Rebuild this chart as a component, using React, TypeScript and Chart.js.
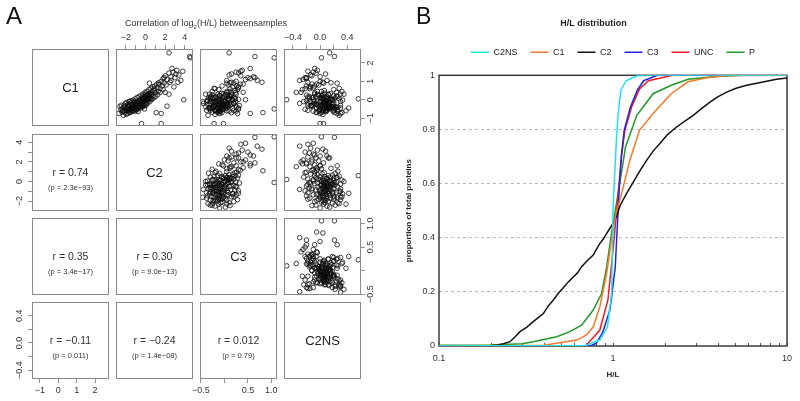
import React, { useEffect, useRef } from 'react';
import { Chart, registerables } from 'chart.js';

Chart.register(...registerables);
const FONT = "'Liberation Sans', Arial, Helvetica, sans-serif";
Chart.defaults.font.family = FONT;
Chart.defaults.color = '#333';

// ---------------- Panel A : log2(H/L) per protein in each sample ----------------
const sampleNames = ['C1', 'C2', 'C3', 'C2NS'];

const c1Values = [
  -0.55, -0.62, -0.40, -0.70, -0.45, -0.58, -0.35, -0.62, -0.48, -0.30,
  -0.55, -0.42, -0.20, -0.50, -0.33, -0.60, -0.25, -0.40, -0.15, -0.48,
  -0.30, -0.20, -0.52, -0.35, -0.10, -0.28, -0.45, -0.18, -0.05, -0.32,
  -0.12, -0.22, 0.02, -0.30, -0.08, -0.15, 0.10, -0.25, 0.00, -0.10,
  0.15, -0.05, 0.20, 0.05, -0.18, 0.25, 0.08, 0.30, -0.02, 0.18,
  0.35, 0.10, 0.28, 0.45, 0.22, 0.50, 0.38, -0.75, -0.50, -0.80,
  -0.40, -0.62, -0.45, -0.62, -0.28, -0.55, -0.40, -0.05, -0.45, 0.05,
  -0.38, 0.08, -0.30, 0.12, 0.05, 0.32, -0.30, -0.70, -0.10, -0.65,
  0.65, 0.45, 0.85, 0.60, 1.00, 0.75, 1.15, 0.90, 1.30, 0.80,
  1.10, 1.45, 0.95, 1.25, 1.50, 1.20, 1.60, 1.35, 1.05, 2.28,
  2.55, 2.35, -1.30, -1.30, -0.70, -0.75, 0.00, 0.00, 0.05, -0.20,
  0.30, -0.45, 0.60, -0.10, 0.40, -0.60, 0.15, 0.90, -0.35, -0.50,
  -0.30, -0.85, -0.20, -0.75, -0.10, -0.70, -0.05, -0.62, -0.02, -0.58,
  0.05, -0.52, 0.12, -0.45, 0.18, -0.40, 0.25, -0.38, 0.30, -0.32,
  0.40, -0.25, 0.45, -0.18, 0.55, -0.10, 0.62, 0.02, 0.70, 0.10,
  0.75, 0.18, 0.85, 0.28, 0.92, -0.45, -0.52, -0.38, -0.42, -0.25,
  -0.22, -0.18, -0.08, 0.02, 0.12, 0.20, 0.30, -0.62, -0.68, -0.36,
  -0.48, -0.30, -0.35, -0.12, -0.02, 0.08, 0.22, -0.28, -0.58, -0.15,
  0.40, 1.05, 0.70, 1.40, 0.55, 1.70, 0.95, 1.20, 0.30, 1.55,
];
const c2Values = [
  -2.5, -2.3, -2.2, -2.1, -2.0, -1.9, -1.8, -1.8, -1.7, -1.6,
  -1.6, -1.5, -1.5, -1.4, -1.4, -1.3, -1.3, -1.2, -1.2, -1.1,
  -1.1, -1.0, -1.0, -0.9, -0.9, -0.8, -0.8, -0.7, -0.7, -0.6,
  -0.6, -0.5, -0.5, -0.4, -0.4, -0.3, -0.3, -0.2, -0.2, -0.1,
  -0.1, 0.0, 0.0, 0.1, 0.1, 0.2, 0.2, 0.3, 0.3, 0.4,
  0.5, 0.5, 0.6, 0.7, 0.8, 0.9, 1.0, -2.7, -2.4, -1.95,
  -1.75, -1.45, -1.25, -1.05, -0.95, -0.85, -0.65, -0.55, -0.45, -0.35,
  -0.25, -0.15, 0.05, 0.15, 0.35, 0.45, -2.15, -1.65, -1.15, -0.75,
  1.2, 1.3, 1.4, 1.5, 1.6, 1.7, 1.8, 1.9, 2.0, 2.1,
  2.2, 2.4, 2.5, 2.6, 2.8, 3.0, 3.2, 3.4, 3.6, 4.55,
  2.4, 4.5, -0.4, 1.6, 1.1, 1.6, 3.9, 0.2, 0.6, -0.8,
  0.0, -1.2, 0.9, -1.6, 1.5, -2.3, -0.3, 0.4, 2.2, -0.1,
  -2.45, -2.25, -2.05, -1.85, -1.70, -1.55, -1.45, -1.35, -1.25, -1.15,
  -1.05, -0.95, -0.85, -0.75, -0.65, -0.55, -0.45, -0.35, -0.25, -0.15,
  -0.05, 0.05, 0.15, 0.25, 0.35, 0.45, 0.55, 0.65, 0.75, 0.85,
  0.95, 1.05, 1.15, 1.25, 1.35, -1.90, -1.60, -1.35, -1.10, -0.85,
  -0.60, -0.40, -0.20, 0.00, 0.20, 0.40, 0.60, -2.15, -2.40, -2.60,
  -1.25, -1.00, -0.70, -0.50, -0.30, -0.10, 0.10, -1.80, -1.50, -1.95,
  2.0, 2.6, 2.9, 3.1, 1.8, 2.7, 3.3, 1.9, 2.4, 3.8,
];
const c3Values = [
  -0.20, -0.12, -0.25, -0.05, -0.15, -0.30, -0.08, -0.18, 0.02, -0.22,
  -0.10, -0.28, -0.05, -0.14, 0.05, -0.20, -0.12, -0.02, -0.25, -0.08,
  0.08, -0.16, -0.04, -0.22, 0.00, -0.10, -0.30, 0.04, -0.12, -0.06,
  -0.18, 0.10, -0.08, -0.14, 0.02, -0.20, -0.04, 0.06, -0.10, -0.02,
  0.12, -0.15, 0.00, 0.08, -0.08, 0.04, -0.12, 0.15, -0.03, 0.06,
  -0.06, 0.18, 0.02, 0.10, -0.10, 0.22, 0.05, -0.10, -0.30, -0.20,
  -0.04, -0.10, -0.32, -0.12, 0.06, -0.16, -0.24, 0.00, -0.10, -0.26,
  -0.06, -0.16, 0.02, -0.20, 0.10, -0.02, -0.08, -0.14, -0.06, -0.08,
  0.30, 0.05, 0.40, 0.12, 0.25, -0.05, 0.55, 0.20, 0.35, 0.08,
  0.45, 0.30, 0.15, 0.62, 0.25, 0.50, 0.38, 0.10, 0.70, 1.06,
  0.10, 0.65, -0.22, -0.02, 0.82, 0.55, 0.45, 0.10, 0.23, -0.45,
  -0.40, 0.30, -0.20, -0.46, 0.15, 0.05, -0.30, 0.05, 0.00, 1.06,
  0.12, -0.35, 0.20, 0.28, -0.38, 0.15, -0.36, 0.25, 0.18, -0.38,
  -0.30, 0.30, 0.22, -0.34, -0.28, 0.26, 0.14, -0.40, -0.32, 0.32,
  0.24, -0.36, -0.26, 0.20, 0.28, -0.30, -0.22, 0.30, 0.18, -0.34,
  0.26, -0.18, 0.34, -0.26, 0.12, 0.05, -0.02, 0.08, -0.24, 0.14,
  -0.30, 0.20, -0.20, 0.16, -0.24, 0.12, -0.14, 0.10, -0.26, 0.02,
  0.18, -0.20, 0.00, 0.24, -0.36, 0.08, -0.10, -0.12, 0.20, -0.24,
  0.40, 0.05, 0.30, 0.15, -0.12, 0.55, 0.80, 0.65, 0.25, 0.35,
];
const c2nsValues = [
  0.10, 0.05, 0.18, 0.02, 0.12, 0.08, 0.20, -0.02, 0.15, 0.06,
  0.25, 0.00, 0.10, 0.14, 0.04, 0.09, -0.05, 0.18, 0.07, 0.11,
  0.02, 0.13, 0.05, 0.16, 0.00, 0.08, 0.12, 0.04, 0.20, -0.03,
  0.10, 0.06, 0.15, 0.01, 0.09, 0.12, 0.03, 0.18, 0.06, -0.04,
  0.10, 0.08, 0.02, 0.14, 0.05, -0.02, 0.11, 0.04, 0.09, -0.06,
  0.07, 0.00, 0.12, -0.04, 0.03, 0.06, -0.08, 0.00, 0.22, 0.04,
  0.10, 0.03, 0.13, 0.19, 0.08, -0.01, 0.14, 0.11, 0.07, 0.02,
  0.16, 0.05, 0.13, 0.01, 0.10, 0.15, 0.07, 0.21, 0.01, 0.09,
  -0.10, 0.02, -0.05, -0.15, 0.00, -0.08, -0.20, 0.05, -0.12, -0.02,
  -0.25, -0.06, -0.18, 0.00, -0.10, -0.22, -0.04, -0.14, -0.30, 0.02,
  0.14, 0.21, 0.05, 0.00, -0.05, 0.25, -0.10, -0.49, 0.56, -0.30,
  0.35, 0.42, -0.22, 0.30, -0.35, 0.38, -0.18, 0.25, -0.12, 0.21,
  -0.12, 0.28, -0.08, 0.30, -0.15, 0.32, -0.20, -0.10, 0.33, -0.18,
  0.28, -0.22, -0.12, 0.30, -0.16, 0.26, -0.20, 0.22, 0.30, -0.14,
  0.24, -0.10, 0.32, -0.18, 0.20, -0.24, 0.28, 0.18, -0.14, 0.22,
  -0.20, 0.26, -0.12, -0.04, 0.16, -0.05, 0.00, -0.02, 0.24, -0.06,
  0.06, 0.20, -0.08, 0.16, -0.10, 0.24, -0.08, 0.26, -0.06, 0.14,
  0.04, 0.30, -0.12, 0.12, 0.18, -0.16, 0.20, -0.18, 0.20, 0.06,
  -0.28, 0.10, -0.16, 0.08, -0.26, -0.08, 0.04, -0.20, 0.12, -0.18,
];
const sampleValues = [c1Values, c2Values, c3Values, c2nsValues];

const sampleRanges = [[-1.43, 2.76], [-3.0, 4.84], [-0.52, 1.12], [-0.53, 0.6]];
const sampleTicks = [
  [-1, 0, 1, 2],
  [-2, -1, 0, 1, 2, 3, 4],
  [-0.5, 0, 0.5, 1.0],
  [-0.4, -0.2, 0, 0.2, 0.4],
];
const sampleTickLabels = [
  ['−1', '0', '1', '2'],
  ['−2', '', '0', '', '2', '', '4'],
  ['−0.5', '', '0.5', '1.0'],
  ['−0.4', '', '0.0', '', '0.4'],
];

const corrRows = [1, 2, 2, 3, 3, 3];
const corrCols = [0, 0, 1, 0, 1, 2];
const corrR = ['0.74', '0.35', '0.30', '−0.11', '−0.24', '0.012'];
const corrP = ['2.3e−93', '3.4e−17', '9.0e−13', '0.011', '1.4e−08', '0.79'];

// ---------------- Panel B : cumulative H/L distributions ----------------
const seriesLabels = ['C2NS', 'C1', 'C2', 'C3', 'UNC', 'P'];
const seriesColors = ['#22e4ee', '#f7792a', '#111111', '#2424dd', '#ee1c24', '#1f9a2a'];

const c2nsHL = [0.1, 0.7, 0.75, 0.84, 0.93, 0.983, 1.0, 1.02, 1.05, 1.08, 1.11, 1.19, 1.37, 1.6, 10];
const c2nsCum = [0, 0.002, 0.01, 0.022, 0.071, 0.2, 0.5, 0.62, 0.78, 0.883, 0.945, 0.98, 0.998, 1, 1];

const c1HL = [0.1, 0.4, 0.475, 0.62, 0.705, 0.77, 0.84, 0.92, 0.98, 1.04, 1.12, 1.25, 1.42, 1.7, 2.16, 2.7, 3.4, 4.5, 10];
const c1Cum = [0, 0.003, 0.01, 0.022, 0.041, 0.071, 0.145, 0.268, 0.39, 0.49, 0.563, 0.686, 0.797, 0.859, 0.932, 0.976, 0.99, 0.999, 1];

const c2HL = [0.1, 0.2, 0.215, 0.235, 0.256, 0.275, 0.292, 0.32, 0.348, 0.372, 0.398, 0.425, 0.454, 0.485, 0.518, 0.55, 0.591, 0.625, 0.66, 0.71, 0.77, 0.8, 0.841, 0.88, 0.92, 0.96, 1.0, 1.05, 1.1, 1.2, 1.31, 1.43, 1.56, 1.7, 1.86, 2.05, 2.32, 2.6, 2.89, 3.2, 3.61, 4.0, 4.5, 5.1, 5.86, 6.7, 7.64, 8.7, 10];
const c2Cum = [0, 0.002, 0.004, 0.008, 0.016, 0.035, 0.053, 0.07, 0.09, 0.105, 0.12, 0.148, 0.17, 0.195, 0.215, 0.235, 0.255, 0.27, 0.293, 0.315, 0.336, 0.355, 0.379, 0.395, 0.416, 0.435, 0.453, 0.48, 0.52, 0.565, 0.606, 0.648, 0.686, 0.72, 0.748, 0.78, 0.809, 0.832, 0.852, 0.875, 0.901, 0.92, 0.938, 0.952, 0.963, 0.971, 0.978, 0.985, 0.99];

const c3HL = [0.1, 0.75, 0.8, 0.87, 0.96, 1.03, 1.07, 1.09, 1.115, 1.16, 1.26, 1.38, 1.5, 1.8, 10];
const c3Cum = [0, 0.002, 0.01, 0.048, 0.133, 0.29, 0.5, 0.6, 0.7, 0.797, 0.883, 0.945, 0.98, 1, 1];

const uncHL = [0.1, 0.7, 0.72, 0.84, 0.935, 1.0, 1.05, 1.09, 1.12, 1.17, 1.28, 1.42, 1.6, 2.2, 10];
const uncCum = [0, 0.002, 0.01, 0.059, 0.17, 0.354, 0.5, 0.62, 0.7, 0.797, 0.883, 0.95, 0.98, 1, 1];

const pHL = [0.1, 0.2, 0.3, 0.348, 0.475, 0.565, 0.66, 0.77, 0.86, 0.92, 0.98, 1.03, 1.07, 1.18, 1.37, 1.7, 2.16, 2.7, 3.9, 5.6, 10];
const pCum = [0.003, 0.004, 0.008, 0.016, 0.034, 0.053, 0.077, 0.133, 0.194, 0.293, 0.416, 0.5, 0.563, 0.735, 0.852, 0.932, 0.963, 0.985, 0.996, 1, 1];

const seriesHL = [c2nsHL, c1HL, c2HL, c3HL, uncHL, pHL];
const seriesCum = [c2nsCum, c1Cum, c2Cum, c3Cum, uncCum, pCum];

const hlTicks = [0.1, 0.2, 0.3, 0.4, 0.5, 0.6, 0.7, 0.8, 0.9, 1, 2, 3, 4, 5, 6, 7, 8, 9, 10];
const hlTickLabels = ['0.1', '', '', '', '', '', '', '', '', '1', '', '', '', '', '', '', '', '', '10'];
const propTicks = [0, 0.2, 0.4, 0.6, 0.8, 1];
const propTickLabels = ['0', '0.2', '0.4', '0.6', '0.8', '1'];

// ---------------- layout ----------------
const CELL_LEFT = [32, 116, 200, 284];
const CELL_TOP = [49, 134, 218, 302];
const CELL = 77;
const M = 30;

function PairCell({ row, col }: { row: number; col: number }) {
  const ref = useRef<HTMLCanvasElement>(null);
  useEffect(() => {
    const xSide = row === 0 && col % 2 === 1 ? 'top' : row === 3 && col % 2 === 0 ? 'bottom' : null;
    const ySide = col === 3 && row % 2 === 0 ? 'right' : col === 0 && row % 2 === 1 ? 'left' : null;
    const xv = sampleValues[col];
    const yv = sampleValues[row];
    const datasets: any[] = row < col
      ? [{
          data: xv.map((v, i) => ({ x: v, y: yv[i] })),
          showLine: false,
          pointRadius: 2.3,
          pointBorderWidth: 0.85,
          pointBorderColor: 'rgba(10,10,10,0.9)',
          pointBackgroundColor: 'rgba(0,0,0,0)',
        }]
      : [];
    const yTicks = sampleTicks[row];
    const yLabels = sampleTickLabels[row];
    const framePlugin = {
      id: 'pairFrame',
      afterDraw(chart: any) {
        const { ctx, chartArea: a } = chart;
        ctx.save();
        ctx.strokeStyle = '#8a8a8a';
        ctx.lineWidth = 1;
        ctx.strokeRect(a.left + 0.5, a.top + 0.5, a.right - a.left - 1, a.bottom - a.top - 1);
        if (ySide) {
          const ys = chart.scales.y;
          ctx.font = `9px ${FONT}`;
          ctx.fillStyle = '#333';
          ctx.textAlign = 'center';
          ctx.textBaseline = 'middle';
          yTicks.forEach((v, i) => {
            const lab = yLabels[i];
            if (!lab) return;
            const py = ys.getPixelForValue(v);
            const px = ySide === 'left' ? a.left - 12 : a.right + 10;
            ctx.save();
            ctx.translate(px, py);
            ctx.rotate(-Math.PI / 2);
            ctx.fillText(lab, 0, 0);
            ctx.restore();
          });
        }
        ctx.restore();
      },
    };
    const chart = new Chart(ref.current as HTMLCanvasElement, {
      type: 'scatter',
      data: { datasets },
      options: {
        animation: false,
        responsive: false,
        devicePixelRatio: 1,
        events: [],
        layout: {
          padding: {
            top: xSide === 'top' ? 0 : M,
            bottom: xSide === 'bottom' ? 0 : M,
            left: ySide === 'left' ? 0 : M,
            right: ySide === 'right' ? 0 : M,
          },
        },
        plugins: { legend: { display: false }, tooltip: { enabled: false }, title: { display: false } },
        scales: {
          x: {
            type: 'linear',
            position: (xSide || 'bottom') as any,
            display: !!xSide,
            min: sampleRanges[col][0],
            max: sampleRanges[col][1],
            afterBuildTicks: (s: any) => { s.ticks = sampleTicks[col].map((v) => ({ value: v })); },
            afterFit: (s: any) => { s.height = xSide ? M : 0; },
            grid: { drawOnChartArea: false, drawTicks: true, tickLength: 4, color: '#777', lineWidth: 0.8 },
            border: { display: false },
            ticks: {
              autoSkip: false,
              maxRotation: 0,
              minRotation: 0,
              padding: 2,
              font: { size: 9 },
              color: '#333',
              callback: (_v: any, i: number) => sampleTickLabels[col][i],
            },
          },
          y: {
            type: 'linear',
            position: (ySide || 'left') as any,
            display: !!ySide,
            min: sampleRanges[row][0],
            max: sampleRanges[row][1],
            afterBuildTicks: (s: any) => { s.ticks = sampleTicks[row].map((v) => ({ value: v })); },
            afterFit: (s: any) => { s.width = ySide ? M : 0; },
            grid: { drawOnChartArea: false, drawTicks: true, tickLength: 4, color: '#777', lineWidth: 0.8 },
            border: { display: false },
            ticks: { display: false },
          },
        },
      } as any,
      plugins: [framePlugin],
    });
    return () => chart.destroy();
  }, [row, col]);
  const size = CELL + 2 * M;
  return (
    <canvas
      ref={ref}
      width={size}
      height={size}
      style={{ position: 'absolute', left: CELL_LEFT[col] - M, top: CELL_TOP[row] - M, width: size, height: size }}
    />
  );
}

function HLChart() {
  const ref = useRef<HTMLCanvasElement>(null);
  useEffect(() => {
    const framePlugin = {
      id: 'hlFrame',
      beforeInit(chart: any) {
        const legend = chart.legend;
        if (legend && !legend.__patched) {
          const fit = legend.fit;
          legend.fit = function () {
            fit.call(this);
            this.height += 8.5;
          };
          legend.__patched = true;
        }
      },
      beforeDatasetsDraw(chart: any) {
        const { ctx, chartArea: a } = chart;
        const xs = chart.scales.x;
        ctx.save();
        ctx.strokeStyle = '#555';
        ctx.lineWidth = 1;
        hlTicks.forEach((v) => {
          const px = Math.round(xs.getPixelForValue(v)) + 0.5;
          ctx.beginPath();
          ctx.moveTo(px, a.bottom);
          ctx.lineTo(px, a.bottom - 3);
          ctx.stroke();
        });
        ctx.strokeStyle = '#3a3a3a';
        ctx.lineWidth = 1.5;
        ctx.strokeRect(a.left, a.top, a.right - a.left, a.bottom - a.top);
        ctx.restore();
      },
    };
    const chart = new Chart(ref.current as HTMLCanvasElement, {
      type: 'line',
      data: {
        datasets: seriesLabels.map((label, k) => ({
          label,
          data: seriesHL[k].map((x, i) => ({ x, y: seriesCum[k][i] })),
          borderColor: seriesColors[k],
          backgroundColor: seriesColors[k],
          borderWidth: 1.5,
          pointRadius: 0,
          tension: 0,
          fill: false,
        })),
      },
      options: {
        animation: false,
        responsive: false,
        devicePixelRatio: 1,
        events: [],
        layout: { padding: { top: 0, right: 13, bottom: 17, left: 0 } },
        plugins: {
          tooltip: { enabled: false },
          title: {
            display: true,
            text: 'H/L distribution',
            color: '#222',
            font: { size: 9, weight: 'bold' },
            padding: { top: 18, bottom: 6 },
          },
          legend: {
            display: true,
            position: 'top',
            fullSize: false,
            labels: {
              usePointStyle: true,
              pointStyle: 'line',
              pointStyleWidth: 18,
              padding: 13,
              color: '#222',
              font: { size: 9 },
            },
          },
        },
        scales: {
          x: {
            type: 'logarithmic',
            min: 0.1,
            max: 10,
            afterBuildTicks: (s: any) => { s.ticks = hlTicks.map((v) => ({ value: v })); },
            afterFit: (s: any) => { s.height = 38; },
            grid: { display: false, drawTicks: false },
            border: { display: false },
            ticks: {
              autoSkip: false,
              maxRotation: 0,
              minRotation: 0,
              padding: 7,
              color: '#333',
              font: { size: 9 },
              callback: (_v: any, i: number) => hlTickLabels[i],
            },
            title: { display: true, text: 'H/L', color: '#222', font: { size: 8, weight: 'bold' }, padding: { top: 0, bottom: 4 } },
          },
          y: {
            type: 'linear',
            min: 0,
            max: 1,
            afterBuildTicks: (s: any) => { s.ticks = propTicks.map((v) => ({ value: v })); },
            afterFit: (s: any) => { s.width = 39; },
            grid: {
              drawTicks: false,
              color: (c: any) => (c.tick && (c.tick.value === 0 || c.tick.value === 1) ? 'rgba(0,0,0,0)' : '#b8b8b8'),
              lineWidth: 1,
            },
            border: { display: false, dash: [3, 3] },
            ticks: {
              padding: 4,
              color: '#333',
              font: { size: 9 },
              callback: (_v: any, i: number) => propTickLabels[i],
            },
            title: {
              display: true,
              text: 'proportion of total proteins',
              color: '#222',
              font: { size: 8, weight: 'bold' },
              padding: { top: 4, bottom: 0 },
            },
          },
        },
      } as any,
      plugins: [framePlugin],
    });
    return () => chart.destroy();
  }, []);
  return (
    <canvas ref={ref} width={400} height={401} style={{ position: 'absolute', left: 400, top: 0, width: 400, height: 401 }} />
  );
}

function Label({ x, y, size, children, color = '#333', weight = 'normal', w = 160 }: any) {
  return (
    <div
      style={{
        position: 'absolute',
        left: x - w / 2,
        top: y - size * 0.6,
        width: w,
        textAlign: 'center',
        fontSize: size,
        lineHeight: `${size * 1.2}px`,
        color,
        fontWeight: weight,
        fontFamily: FONT,
        whiteSpace: 'nowrap',
        zIndex: 5,
      }}
    >
      {children}
    </div>
  );
}

export default function App() {
  const cells: JSX.Element[] = [];
  for (let r = 0; r < 4; r++) {
    for (let c = 0; c < 4; c++) {
      cells.push(<PairCell key={`${r}-${c}`} row={r} col={c} />);
    }
  }
  return (
    <div
      style={{
        position: 'fixed',
        left: 0,
        top: 0,
        width: 800,
        height: 401,
        background: '#fff',
        overflow: 'hidden',
        fontFamily: FONT,
      }}
    >
      {cells}
      <div style={{ position: 'absolute', left: 6, top: 4, fontSize: 24, lineHeight: '24px', fontFamily: FONT, color: '#111', zIndex: 5 }}>A</div>
      <div style={{ position: 'absolute', left: 416, top: 5, fontSize: 23, lineHeight: '23px', fontFamily: FONT, color: '#111', zIndex: 5 }}>B</div>
      <Label x={206} y={23} size={9} w={260}>
        Correlation of log<sub style={{ fontSize: 6 }}>2</sub>(H/L) betweensamples
      </Label>
      {sampleNames.map((n, i) => (
        <Label key={n} x={CELL_LEFT[i] + CELL / 2} y={CELL_TOP[i] + CELL / 2} size={13} color="#222">
          {n}
        </Label>
      ))}
      {corrR.map((rv, k) => (
        <React.Fragment key={k}>
          <Label x={CELL_LEFT[corrCols[k]] + CELL / 2} y={CELL_TOP[corrRows[k]] + CELL / 2} size={10.5}>
            r = {rv}
          </Label>
          <Label x={CELL_LEFT[corrCols[k]] + CELL / 2} y={CELL_TOP[corrRows[k]] + CELL / 2 + 15} size={7.5}>
            (p = {corrP[k]})
          </Label>
        </React.Fragment>
      ))}
      <HLChart />
    </div>
  );
}
